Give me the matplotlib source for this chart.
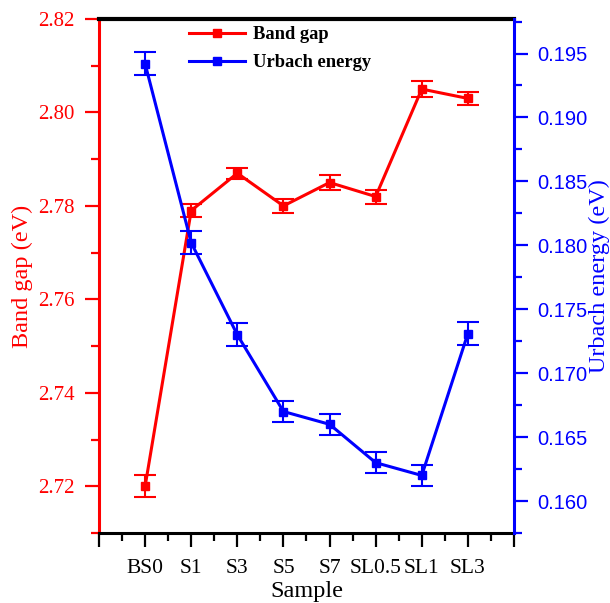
import matplotlib
matplotlib.use("Agg")
import matplotlib.pyplot as plt
from matplotlib.lines import Line2D
from matplotlib.ticker import MultipleLocator

plt.rcParams.update({
    "font.family": ["Liberation Serif", "DejaVu Serif"],
    "font.size": 12,
})

samples = ["BS0", "S1", "S3", "S5", "S7", "SL0.5", "SL1", "SL3"]
band_gap = [2.720, 2.779, 2.787, 2.780, 2.785, 2.782, 2.805, 2.803]
band_gap_err = [0.0024, 0.0014, 0.0012, 0.0015, 0.0017, 0.0015, 0.0017, 0.0014]
urbach = [0.1942, 0.1802, 0.1730, 0.1670, 0.1660, 0.1630, 0.1620, 0.1731]
urbach_err = [0.0009, 0.0009, 0.0009, 0.0008, 0.0008, 0.0008, 0.0008, 0.0009]

RED = "#ff0000"
BLUE = "#0000ff"

x = list(range(1, len(samples) + 1))

fig = plt.figure(figsize=(6.1, 6.03), dpi=100)
ax = fig.add_axes([0.1623, 0.1161, 0.6803, 0.8524])
ax2 = ax.twinx()

ax.errorbar(x, band_gap, yerr=band_gap_err, color=RED, lw=2.2, marker="s", ms=6,
            capsize=8, elinewidth=1.5, capthick=1.5, zorder=3)
ax2.errorbar(x, urbach, yerr=urbach_err, color=BLUE, lw=2.2, marker="s", ms=6,
             capsize=8, elinewidth=1.5, capthick=1.5, zorder=3)

ax.set_xlim(0, 9)
ax.set_ylim(2.71, 2.82)
ax2.set_ylim(0.1575, 0.1977)

ax.set_xticks(range(0, 10))
ax.set_xticklabels([""] + samples + [""])
ax.xaxis.set_minor_locator(MultipleLocator(0.5))
ax.set_yticks([2.72, 2.74, 2.76, 2.78, 2.80, 2.82])
ax.set_yticklabels([f"{v:.2f}" for v in [2.72, 2.74, 2.76, 2.78, 2.80, 2.82]])
ax.yaxis.set_minor_locator(MultipleLocator(0.01))
ax2.set_yticks([0.160, 0.165, 0.170, 0.175, 0.180, 0.185, 0.190, 0.195])
ax2.set_yticklabels([f"{v:.3f}" for v in [0.160, 0.165, 0.170, 0.175, 0.180, 0.185, 0.190, 0.195]],
                    family="Liberation Sans")
ax2.yaxis.set_minor_locator(MultipleLocator(0.0025))

# spines
for s in ax.spines.values():
    s.set_linewidth(2.2)
for s in ax2.spines.values():
    s.set_linewidth(2.2)
ax.spines["top"].set_linewidth(3)
ax.spines["left"].set_color(RED)
ax.spines["bottom"].set_color("black")
ax.spines["top"].set_color("black")
ax.spines["right"].set_visible(False)
ax2.spines["left"].set_visible(False)
ax2.spines["bottom"].set_visible(False)
ax2.spines["top"].set_visible(False)
ax2.spines["right"].set_color(BLUE)

ax.tick_params(axis="x", which="major", direction="out", length=10, width=1.6,
               colors="black", labelsize=15.5, top=False, pad=9)
ax.tick_params(axis="x", which="minor", direction="out", length=6, width=1.6, top=False)
ax.tick_params(axis="y", which="major", direction="out", length=10, width=1.6,
               color=RED, labelcolor=RED, labelsize=15, right=False, pad=7.5)
ax.tick_params(axis="y", which="minor", direction="out", length=6, width=1.6,
               color=RED, right=False)
ax2.tick_params(axis="y", which="major", direction="out", length=10, width=1.6,
                color=BLUE, labelcolor=BLUE, labelsize=14.5, left=False, pad=7)
ax2.tick_params(axis="y", which="minor", direction="out", length=6, width=1.6,
                color=BLUE, left=False)

ax.set_xlabel("Sample", fontsize=17.5, labelpad=2)
ax.set_ylabel("Band gap (eV)", color=RED, fontsize=17.5)
ax.yaxis.set_label_coords(-0.158, 0.5)
ax2.set_ylabel("Urbach energy (eV)", color=BLUE, fontsize=17.5)
ax2.yaxis.set_label_coords(1.181, 0.5)

handles = [
    Line2D([0], [0], color=RED, lw=2.2, marker="s", ms=6, label="Band gap"),
    Line2D([0], [0], color=BLUE, lw=2.2, marker="s", ms=6, label="Urbach energy"),
]
ax2.legend(handles=handles, loc="upper left", bbox_to_anchor=(0.176, 1.018), frameon=False,
           prop={"weight": "bold", "size": 13.3}, handlelength=3.05, handletextpad=0.45,
           labelspacing=0.6, numpoints=1)

fig.savefig("out.png", dpi=100)
